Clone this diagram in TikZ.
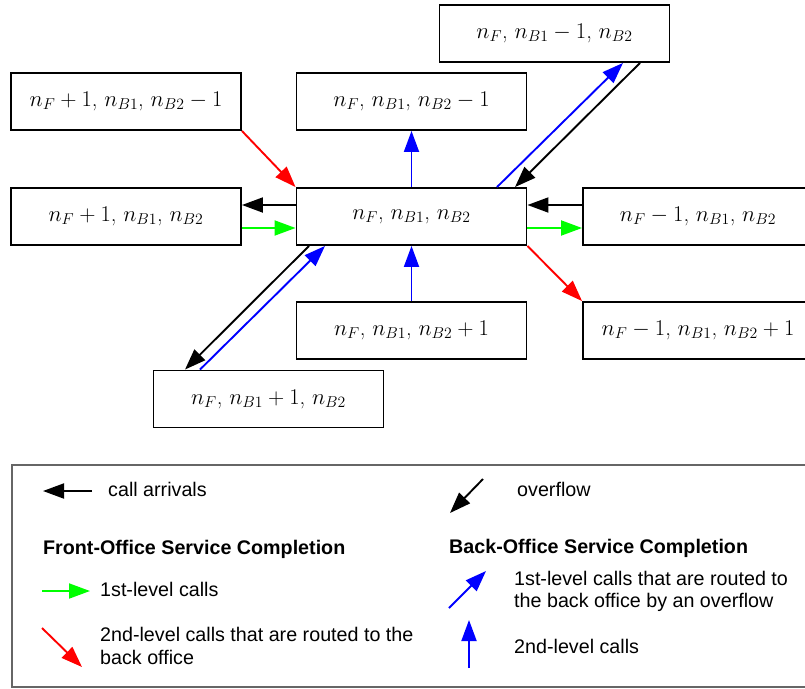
\RequirePackage{fix-cm}
\documentclass[tikz,border=0pt]{standalone}
\usepackage{fontspec}
\setsansfont{Liberation Sans}
\usetikzlibrary{arrows.meta}

\begin{document}
\begin{tikzpicture}[x=1pt,y=-1pt,
    state/.style={draw,line width=1.9pt,minimum width=230pt,minimum height=57pt,inner sep=0pt,font=\fontsize{22.5}{26}\selectfont},
    arr/.style={line width=1.9pt,-{Triangle[length=21pt,width=15pt]}},
    legend/.style={inner sep=0pt,font=\sffamily\fontsize{19.7}{22.5}\selectfont}]
        \useasboundingbox (0,0) rectangle (805,688);
        % states
        \node[state] (c) at (411.5,216.5) {$n_F$, $n_{B1}$, $n_{B2}$};
        \node[state] (fp) at (126,216.5) {$n_F+1$, $n_{B1}$, $n_{B2}$};
        \node[state] (fpb) at (126,101.5) {$n_F+1$, $n_{B1}$, $n_{B2}-1$};
        \node[state] (bm) at (411.5,101.5) {$n_F$, $n_{B1}$, $n_{B2}-1$};
        \node[state] (ba) at (554.5,33.5) {$n_F$, $n_{B1}-1$, $n_{B2}$};
        \node[state] (fm) at (698,216.5) {$n_F-1$, $n_{B1}$, $n_{B2}$};
        \node[state] (bp) at (411.5,330.5) {$n_F$, $n_{B1}$, $n_{B2}+1$};
        \node[state] (fmb) at (698,330.5) {$n_F-1$, $n_{B1}$, $n_{B2}+1$};
        \node[state] (bb) at (268.5,399) {$n_F$, $n_{B1}+1$, $n_{B2}$};
        % transitions
        \draw[arr,red] (fpb.south east) -- (c.north west);
        \draw[arr] ([yshift=11.5pt]c.west) -- ([yshift=11.5pt]fp.east);
        \draw[arr,green] ([yshift=-11.5pt]fp.east) -- ([yshift=-11.5pt]c.west);
        \draw[arr,blue] (c.north) -- (bm.south);
        \draw[arr,blue] ([xshift=85.5pt]c.north) -- ([xshift=68.5pt]ba.south);
        \draw[arr] ([xshift=85.5pt]ba.south) -- ([xshift=103.5pt]c.north);
        \draw[arr] ([yshift=11.5pt]fm.west) -- ([yshift=11.5pt]c.east);
        \draw[arr,green] ([yshift=-11.5pt]c.east) -- ([yshift=-11.5pt]fm.west);
        \draw[arr,red] (c.south east) -- (fmb.north west);
        \draw[arr,blue] (bp.north) -- (c.south);
        \draw[arr] ([xshift=-102.5pt]c.south) -- ([xshift=-83.5pt]bb.north);
        \draw[arr,blue] ([xshift=-68.5pt]bb.north) -- ([xshift=-86.5pt]c.south);
        % legend
        \draw[black!60,line width=1.2pt] (12,465) rectangle (815,687);
        \node[legend,anchor=base west] (arrivals) at (108,496) {call arrivals};
        \node[legend,anchor=base west] (overflow) at (517,496) {overflow};
        \node[legend,anchor=base west] (fo) at (43,554) {\bfseries Front-Office Service Completion};
        \node[legend,anchor=base west] (bo) at (449,553) {\bfseries Back-Office Service Completion};
        \node[legend,anchor=base west] (fo1) at (100,596) {1st-level calls};
        \node[legend,anchor=west,align=left] (fo2) at (100,646) {2nd-level calls that are routed to the\\back office};
        \node[legend,anchor=west,align=left] (bo1) at (514,591.5) {1st-level calls that are routed to\\the back office by an overflow};
        \node[legend,anchor=base west] (bo2) at (514,653) {2nd-level calls};
        \coordinate (la1) at (92,491);
        \coordinate (la2) at (43,491);
        \coordinate (lo1) at (483,479);
        \coordinate (lo2) at (450,513);
        \coordinate (lg1) at (42,591);
        \coordinate (lg2) at (90,591);
        \coordinate (lr1) at (42,628);
        \coordinate (lr2) at (82,667);
        \coordinate (lb1) at (449,608);
        \coordinate (lb2) at (486,571);
        \coordinate (lu1) at (469,668);
        \coordinate (lu2) at (469,620);
        \draw[arr] (la1) -- (la2);
        \draw[arr] (lo1) -- (lo2);
        \draw[arr,green] (lg1) -- (lg2);
        \draw[arr,red] (lr1) -- (lr2);
        \draw[arr,blue] (lb1) -- (lb2);
        \draw[arr,blue] (lu1) -- (lu2);
      \end{tikzpicture}
\end{document}
